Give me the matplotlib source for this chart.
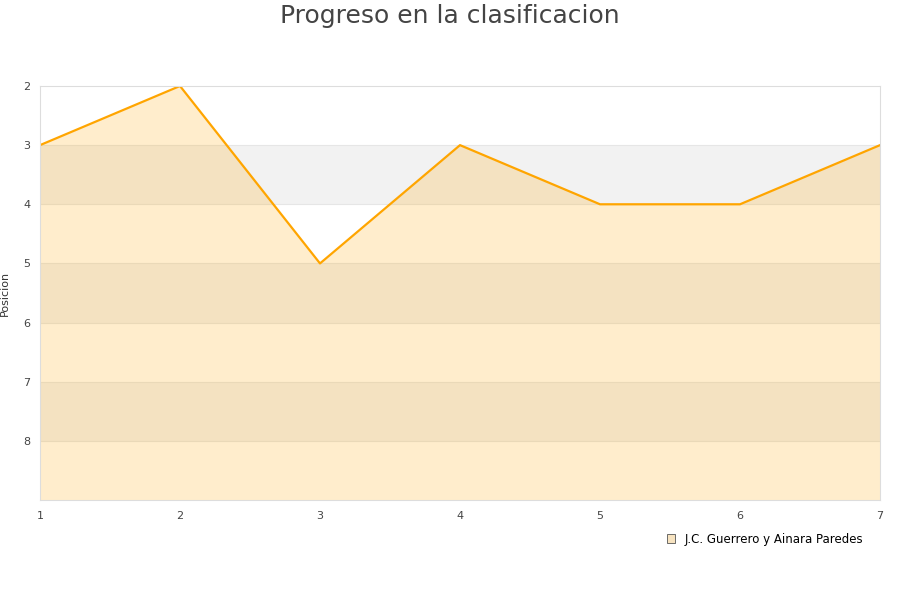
import numpy as np
import matplotlib.pyplot as plt
from matplotlib.patches import Patch

jornadas = [1, 2, 3, 4, 5, 6, 7]
posicion = [3, 2, 5, 3, 4, 4, 3]
serie = 'J.C. Guerrero y Ainara Paredes'

fig = plt.figure(figsize=(9, 6), dpi=100)
ax = fig.add_axes([40/900, 1-500/600, 840/900, 414/600])

# bandas alternas
for y0 in [3, 5, 7]:
	ax.axhspan(y0, y0+1, color='#f2f2f2', lw=0, zorder=0)
for y0 in range(3, 9):
	ax.axhline(y0, color='#e6e6e6', lw=0.8, zorder=0.5)

ax.fill_between(jornadas, posicion, 9, color='#ffa500', alpha=0.2, lw=0, zorder=1)
ax.plot(jornadas, posicion, color='#ffa500', lw=1.6, zorder=2)

ax.set_xlim(1, 7)
ax.set_ylim(9, 2)
ax.set_yticks([2, 3, 4, 5, 6, 7, 8])
ax.set_xticks(jornadas)
ax.tick_params(length=0, labelsize=8, colors='#444444', pad=8)
ax.tick_params(axis='y', pad=7)
for s in ax.spines.values():
	s.set_color('#dddddd')
ax.set_ylabel('Posicion', fontsize=8, color='#333333')
ax.yaxis.set_label_coords(-30/840, 0.5)

fig.text(0.5, 1-16/600, 'Progreso en la clasificacion', ha='center', va='center', fontsize=18, color='#444444')

h = Patch(facecolor='#f7e3c0', edgecolor='#555555', lw=0.6)
fig.legend([h], [serie], loc='center', bbox_to_anchor=(765/900, 1-539/600), frameon=False,
	fontsize=8.5, handlelength=0.7, handleheight=0.7, handletextpad=0.8)

fig.savefig('out.png', dpi=100)
